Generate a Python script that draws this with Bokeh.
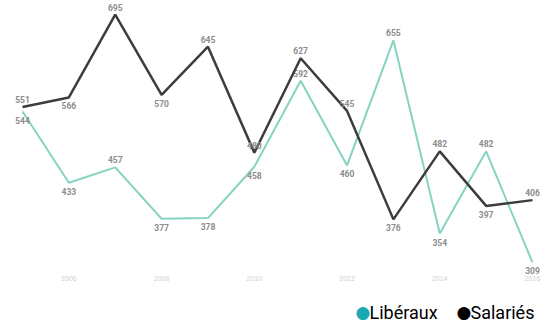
from bokeh.plotting import figure
from bokeh.models import ColumnDataSource, Range1d, Label
from bokeh.core.properties import value
from bokeh.embed import file_html
from bokeh.resources import INLINE

years = [2005, 2006, 2007, 2008, 2009, 2010, 2011, 2012, 2013, 2014, 2015, 2016]
liberaux = [544, 433, 457, 377, 378, 458, 592, 460, 655, 354, 482, 309]
salaries = [551, 566, 695, 570, 645, 480, 627, 545, 376, 482, 397, 406]
tick_years = [2006, 2008, 2010, 2012, 2014, 2016]
series_names = ["Libéraux", "Salariés"]

TEAL_LINE = "#86d3c1"
TEAL_LEG = "#1aa9b2"
DARK = "#3d3d3d"

p = figure(width=542, height=328, output_backend="svg", toolbar_location=None,
           x_range=Range1d(2004.525, 2016.216), y_range=Range1d(206, 717),
           min_border_left=0, min_border_right=0, min_border_top=0, min_border_bottom=0)
p.outline_line_color = None
p.background_fill_color = "white"
p.border_fill_color = "white"
p.grid.visible = False
p.xaxis.visible = False
p.yaxis.visible = False

for yr in tick_years:
    p.add_layout(Label(x=yr, y=50, y_units="screen", text=str(yr),
                       text_align="center", text_baseline="middle",
                       text_font_size="7px", text_color="#cfcfcf"))

def placements(vals, other):
    out = []
    n = len(vals)
    for i, v in enumerate(vals):
        if abs(v - other[i]) < 30:
            out.append(v >= other[i])
            continue
        nb = [vals[j] for j in (i - 1, i + 1) if 0 <= j < n]
        out.append(v >= sum(nb) / len(nb))
    return out

def add_series(vals, other, color, width):
    p.line(years, vals, line_color=color, line_width=width)
    above = placements(vals, other)
    src = ColumnDataSource(dict(
        x=years, y=vals, t=[str(v) for v in vals],
        off=[-4 if a else 5 for a in above],
        base=["bottom" if a else "top" for a in above]))
    p.text(x="x", y="y", text="t", y_offset="off", text_baseline="base",
           text_align="center", text_font=value("Roboto"), text_font_size="8.5px",
           text_font_style="bold", text_color="#8c8c8c", source=src)

add_series(liberaux, salaries, TEAL_LINE, 2)
add_series(salaries, liberaux, DARK, 2.5)

# legend drawn in screen space
for name, col, xs in [(series_names[0], TEAL_LEG, 355), (series_names[1], "black", 456)]:
    p.add_layout(Label(x=xs, y=17, x_units="screen", y_units="screen", text="\u25CF",
                       text_font="DejaVu Sans", text_font_size="17px", text_color=col,
                       text_align="left", text_baseline="middle"))
    p.add_layout(Label(x=xs + 14, y=16, x_units="screen", y_units="screen", text=name,
                       text_font="Roboto", text_font_size="18px", text_color="black",
                       text_align="left", text_baseline="middle"))

open("out.html", "w").write(file_html(p, INLINE))
